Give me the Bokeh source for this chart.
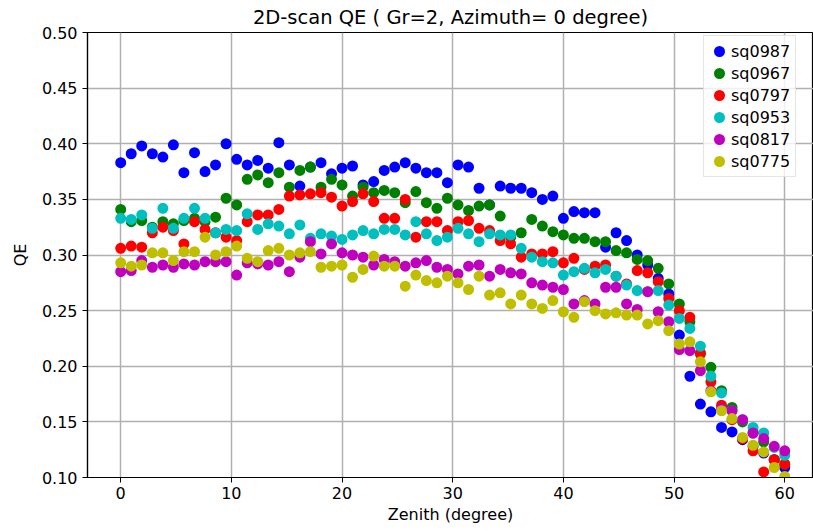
from bokeh.plotting import figure
from bokeh.models import Range1d, FixedTicker, PrintfTickFormatter, Legend, LegendItem, ColumnDataSource
from bokeh.embed import file_html
from bokeh.resources import INLINE

zenith = [0.00, 0.95, 1.90, 2.86, 3.81, 4.76, 5.71, 6.67, 7.62, 8.57,
          9.52, 10.48, 11.43, 12.38, 13.33, 14.29, 15.24, 16.19, 17.14, 18.10,
          19.05, 20.00, 20.95, 21.90, 22.86, 23.81, 24.76, 25.71, 26.67, 27.62,
          28.57, 29.52, 30.48, 31.43, 32.38, 33.33, 34.29, 35.24, 36.19, 37.14,
          38.10, 39.05, 40.00, 40.95, 41.90, 42.86, 43.81, 44.76, 45.71, 46.67,
          47.62, 48.57, 49.52, 50.48, 51.43, 52.38, 53.33, 54.29, 55.24, 56.19,
          57.14, 58.10, 59.05, 60.00]

sq0987 = [0.383, 0.391, 0.398, 0.391, 0.388, 0.399, 0.374, 0.392, 0.375, 0.381,
          0.400, 0.386, 0.381, 0.385, 0.378, 0.401, 0.381, 0.362, 0.379, 0.383,
          0.373, 0.378, 0.380, 0.363, 0.366, 0.376, 0.379, 0.383, 0.378, 0.374,
          0.374, 0.365, 0.381, 0.379, 0.360, 0.345, 0.362, 0.360, 0.360, 0.356,
          0.350, 0.353, 0.333, 0.339, 0.338, 0.338, 0.307, 0.320, 0.313, 0.300,
          0.291, 0.279, 0.265, 0.228, 0.191, 0.166, 0.159, 0.145, 0.141, 0.134,
          0.128, 0.122, 0.116, 0.109]

sq0967 = [0.341, 0.330, 0.331, 0.325, 0.330, 0.328, 0.331, 0.333, 0.330, 0.334,
          0.351, 0.345, 0.368, 0.372, 0.365, 0.374, 0.361, 0.376, 0.379, 0.361,
          0.368, 0.363, 0.353, 0.361, 0.356, 0.358, 0.356, 0.347, 0.357, 0.347,
          0.342, 0.351, 0.345, 0.340, 0.344, 0.345, 0.335, 0.316, 0.320, 0.332,
          0.326, 0.321, 0.318, 0.315, 0.315, 0.312, 0.312, 0.304, 0.302, 0.296,
          0.295, 0.288, 0.274, 0.256, 0.240, 0.211, 0.199, 0.178, 0.163, 0.150,
          0.140, 0.132, 0.116, 0.112]

sq0797 = [0.306, 0.308, 0.307, 0.320, 0.325, 0.322, 0.310, 0.330, 0.323, 0.320,
          0.316, 0.313, 0.330, 0.336, 0.336, 0.341, 0.353, 0.354, 0.355, 0.356,
          0.352, 0.344, 0.348, 0.355, 0.348, 0.333, 0.333, 0.350, 0.316, 0.330,
          0.330, 0.322, 0.330, 0.331, 0.324, 0.322, 0.313, 0.310, 0.298, 0.301,
          0.301, 0.303, 0.293, 0.297, 0.287, 0.290, 0.291, 0.281, 0.274, 0.286,
          0.284, 0.276, 0.261, 0.250, 0.244, 0.212, 0.186, 0.165, 0.152, 0.135,
          0.124, 0.105, 0.116, 0.112]

sq0953 = [0.333, 0.332, 0.336, 0.324, 0.342, 0.324, 0.333, 0.342, 0.333, 0.320,
          0.323, 0.322, 0.337, 0.323, 0.328, 0.326, 0.319, 0.327, 0.315, 0.319,
          0.317, 0.314, 0.318, 0.322, 0.319, 0.323, 0.323, 0.318, 0.330, 0.319,
          0.313, 0.316, 0.324, 0.319, 0.312, 0.319, 0.318, 0.318, 0.306, 0.298,
          0.294, 0.293, 0.282, 0.285, 0.288, 0.284, 0.287, 0.281, 0.273, 0.268,
          0.267, 0.268, 0.255, 0.243, 0.234, 0.218, 0.191, 0.176, 0.160, 0.152,
          0.145, 0.140, 0.127, 0.120]

sq0817 = [0.285, 0.286, 0.295, 0.289, 0.291, 0.289, 0.292, 0.291, 0.294, 0.294,
          0.294, 0.282, 0.293, 0.292, 0.291, 0.294, 0.285, 0.298, 0.312, 0.301,
          0.310, 0.302, 0.300, 0.298, 0.291, 0.296, 0.294, 0.290, 0.293, 0.295,
          0.289, 0.287, 0.283, 0.290, 0.291, 0.281, 0.287, 0.284, 0.283, 0.275,
          0.273, 0.271, 0.269, 0.256, 0.259, 0.256, 0.271, 0.271, 0.256, 0.251,
          0.267, 0.249, 0.240, 0.215, 0.214, 0.196, 0.178, 0.162, 0.160, 0.152,
          0.140, 0.135, 0.128, 0.124]

sq0775 = [0.293, 0.290, 0.291, 0.302, 0.302, 0.295, 0.303, 0.303, 0.316, 0.300,
          0.303, 0.308, 0.297, 0.294, 0.304, 0.306, 0.300, 0.302, 0.303, 0.289,
          0.290, 0.291, 0.280, 0.287, 0.299, 0.290, 0.290, 0.272, 0.282, 0.277,
          0.275, 0.281, 0.275, 0.269, 0.281, 0.264, 0.266, 0.256, 0.264, 0.256,
          0.252, 0.259, 0.249, 0.244, 0.258, 0.250, 0.247, 0.248, 0.246, 0.246,
          0.238, 0.241, 0.232, 0.220, 0.222, 0.204, 0.177, 0.160, 0.153, 0.136,
          0.129, 0.123, 0.109, 0.101]

series_names = ["sq0987", "sq0967", "sq0797", "sq0953", "sq0817", "sq0775"]
series_values = [sq0987, sq0967, sq0797, sq0953, sq0817, sq0775]
series_colors = ["#0000ff", "#008000", "#ff0000", "#00bfbf", "#bf00bf", "#bfbf00"]

x_ticks = [0, 10, 20, 30, 40, 50, 60]
y_ticks = [0.10, 0.15, 0.20, 0.25, 0.30, 0.35, 0.40, 0.45, 0.50]

FONT = "DejaVu Sans"

p = figure(width=813, height=527, output_backend="svg", toolbar_location=None,
           x_range=Range1d(-3.0, 62.6), y_range=Range1d(0.1, 0.5),
           min_border_left=87, min_border_right=0, min_border_top=32, min_border_bottom=50,
           title="2D-scan QE ( Gr=2, Azimuth= 0 degree)")

p.title.text_font = FONT
p.title.text_font_size = "19.5px"
p.title.text_font_style = "normal"
p.title.text_color = "black"
p.title.align = "center"
p.title.standoff = 7

p.outline_line_color = "black"
p.outline_line_width = 1.2

for ax in (p.xaxis[0], p.yaxis[0]):
    ax.axis_line_color = "black"
    ax.axis_line_width = 1.2
    ax.major_tick_line_color = "black"
    ax.major_tick_out = 5
    ax.major_tick_in = 0
    ax.minor_tick_line_color = None
    ax.major_label_text_font = FONT
    ax.major_label_text_font_size = "16px"
    ax.major_label_text_color = "black"
    ax.axis_label_text_font = FONT
    ax.axis_label_text_font_size = "16px"
    ax.axis_label_text_font_style = "normal"
    ax.axis_label_text_color = "black"

p.xaxis.ticker = FixedTicker(ticks=x_ticks)
p.yaxis.ticker = FixedTicker(ticks=y_ticks)
p.yaxis.formatter = PrintfTickFormatter(format="%.2f")
p.xaxis.axis_label = "Zenith (degree)"
p.yaxis.axis_label = "QE"
p.xaxis.major_label_standoff = 4
p.xaxis.axis_label_standoff = 3
p.yaxis.major_label_standoff = 5
p.yaxis.axis_label_standoff = 9

p.grid.grid_line_color = "#b0b0b0"
p.grid.grid_line_width = 1.5

items = []
for name, vals, col in zip(series_names, series_values, series_colors):
    src = ColumnDataSource(data=dict(x=zenith, y=vals))
    r = p.scatter("x", "y", source=src, size=8, line_width=3,
                  fill_color=col, line_color=col, marker="circle")
    items.append(LegendItem(label=name, renderers=[r]))

legend = Legend(items=items, location=(616, 300))
legend.label_text_font = FONT
legend.label_text_font_size = "16px"
legend.label_text_color = "black"
legend.padding = 5
legend.spacing = 2
legend.label_height = 20
legend.glyph_height = 20
legend.glyph_width = 20
legend.label_standoff = 2
legend.border_line_color = "#cccccc"
legend.border_line_width = 1
legend.background_fill_alpha = 0.8
legend.margin = 0
p.add_layout(legend)

open("out.html", "w").write(file_html(p, INLINE))
